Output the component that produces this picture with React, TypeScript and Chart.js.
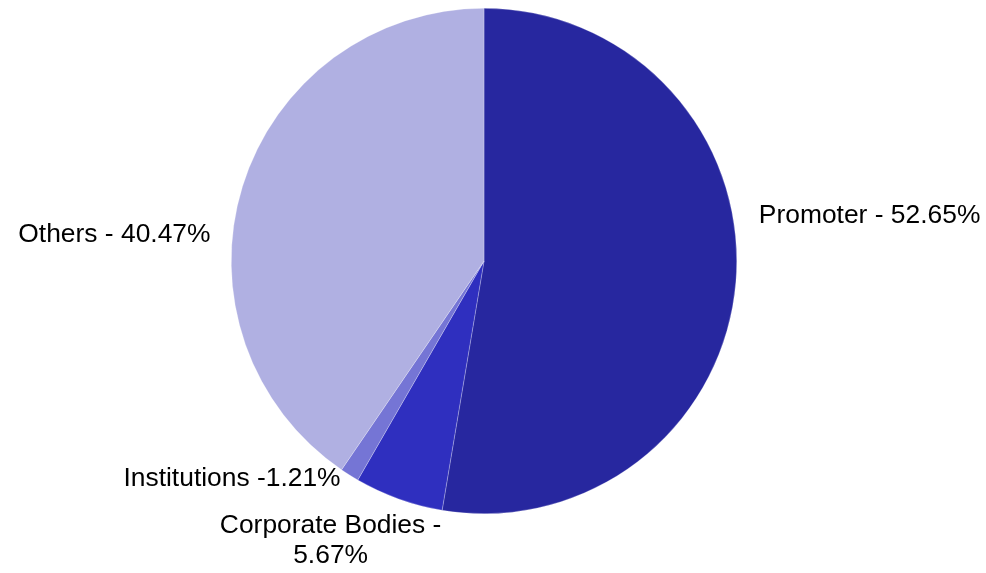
import React, { useEffect, useRef } from "react";
import { Chart, registerables } from "chart.js";

Chart.register(...registerables);

const categories = ["Promoter", "Corporate Bodies", "Institutions", "Others"];
const shares = [52.65, 5.67, 1.21, 40.47];
const labelLines = [
  ["Promoter - 52.65%"],
  ["Corporate Bodies -", "5.67%"],
  ["Institutions -1.21%"],
  ["Others - 40.47%"],
];
const colors = ["#27279F", "#2F2FBF", "#7575D5", "#B0B0E2"];

// label placement relative to the outer mid-point of each slice
const labelOffsets = [
  { dx: 23, dy: -66, align: "left" },
  { dx: -68, dy: 27, align: "center" },
  { dx: -9, dy: 4, align: "right" },
  { dx: -32, dy: 48, align: "right" },
];

const labelPlugin = {
  id: "outerLabels",
  afterDatasetsDraw(chart: any) {
    const ctx = chart.ctx;
    const meta = chart.getDatasetMeta(0);
    ctx.save();
    ctx.font = '26.4px "Liberation Sans", Arial, sans-serif';
    ctx.fillStyle = "#000";
    ctx.textBaseline = "middle";
    meta.data.forEach((arc: any, i: number) => {
      const { x, y, startAngle, endAngle, outerRadius } = arc.getProps(
        ["x", "y", "startAngle", "endAngle", "outerRadius"],
        true
      );
      const mid = (startAngle + endAngle) / 2;
      const ax = x + Math.cos(mid) * outerRadius;
      const ay = y + Math.sin(mid) * outerRadius;
      const off = labelOffsets[i];
      ctx.textAlign = off.align;
      labelLines[i].forEach((line, j) => {
        ctx.fillText(line, ax + off.dx, ay + off.dy + j * 30);
      });
    });
    ctx.restore();
  },
};

export default function App() {
  const ref = useRef<HTMLCanvasElement>(null);
  useEffect(() => {
    if (!ref.current) return;
    const chart = new Chart(ref.current, {
      type: "pie",
      data: {
        labels: categories,
        datasets: [
          {
            data: shares,
            backgroundColor: colors,
            borderColor: "rgba(255,255,255,0.5)",
            borderWidth: 0.5,
          },
        ],
      },
      options: {
        animation: false,
        responsive: false,
        maintainAspectRatio: false,
        layout: { padding: { top: 8, bottom: 59, left: 231, right: 249 } },
        plugins: {
          legend: { display: false },
          tooltip: { enabled: false },
        },
      },
      plugins: [labelPlugin],
    } as any);
    return () => chart.destroy();
  }, []);
  return (
    <div style={{ position: "fixed", left: 0, top: 0, width: 986, height: 573, background: "#fff" }}>
      <canvas ref={ref} width={986} height={573} style={{ width: 986, height: 573 }} />
    </div>
  );
}
